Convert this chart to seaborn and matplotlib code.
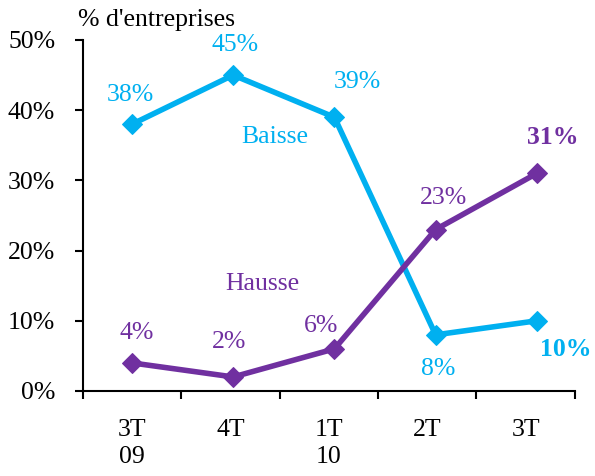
import numpy as np
import matplotlib
matplotlib.use("Agg")
import matplotlib.pyplot as plt
import seaborn as sns

# DATA

quarters = ["3T\n09", "4T", "1T\n10", "2T", "3T"]
baisse = [38, 45, 39, 8, 10]
hausse = [4, 2, 6, 23, 31]

CYAN = "#00B0F0"
PURPLE = "#7030A0"
FS = 18.5

# STYLE

sns.set_style("ticks")
plt.rcParams["font.family"] = ["Liberation Serif", "DejaVu Serif"]
plt.rcParams["font.size"] = FS
plt.rcParams["text.color"] = "black"
plt.rcParams["xtick.color"] = "black"
plt.rcParams["ytick.color"] = "black"

fig = plt.figure(figsize=(5.95, 4.76), dpi=100)
ax = fig.add_axes([0.1395, 0.1786, 0.8265, 0.7374])

x = np.arange(len(quarters))

sns.lineplot(x=x, y=baisse, ax=ax, color=CYAN, lw=4,
             marker="D", markersize=10.5, markeredgecolor=CYAN)
sns.lineplot(x=x, y=hausse, ax=ax, color=PURPLE, lw=4,
             marker="D", markersize=10.5, markeredgecolor=PURPLE)

# data labels
b_off = [(-1.5, 21), (1.5, 21.5), (16.5, 25), (2, -24.5), (21, -21)]
h_off = [(3.5, 21.5), (-3, 25), (-9.5, 16.5), (6, 23), (11.5, 26)]

for i, v in enumerate(baisse):
    ax.annotate(f"{v}%", (x[i], v), xytext=b_off[i], textcoords="offset points",
                ha="center", va="center", color=CYAN, fontsize=FS,
                fontweight="bold" if i == len(x) - 1 else "normal")
for i, v in enumerate(hausse):
    ax.annotate(f"{v}%", (x[i], v), xytext=h_off[i], textcoords="offset points",
                ha="center", va="center", color=PURPLE, fontsize=FS,
                fontweight="bold" if i == len(x) - 1 else "normal")

ax.text(1.41, 36.2, "Baisse", color=CYAN, ha="center", va="center", fontsize=FS)
ax.text(1.29, 15.3, "Hausse", color=PURPLE, ha="center", va="center", fontsize=FS)

# axes
ax.set_ylim(0, 50)
ax.set_yticks(range(0, 51, 10))
ax.set_yticklabels([f"{t}%" for t in range(0, 51, 10)])
ax.tick_params(axis="y", direction="out", length=6, width=1.5, pad=14, labelsize=FS)

x0, x1 = -0.484, 4.375
ax.set_xlim(x0, x1)
bounds = np.linspace(x0, x1, len(quarters) + 1)
ax.set_xticks(bounds)
ax.set_xticklabels([])
ax.set_xticks((bounds[:-1] + bounds[1:]) / 2, minor=True)
ax.set_xticklabels(quarters, minor=True)
ax.tick_params(axis="x", which="major", direction="out", length=6, width=1.5)
ax.tick_params(axis="x", which="minor", length=0, pad=20, labelsize=FS)
for lbl in ax.get_xticklabels(minor=True):
    lbl.set_linespacing(1.3)
    lbl.set_verticalalignment("top")

sns.despine(ax=ax)
for s in ["left", "bottom"]:
    ax.spines[s].set_linewidth(1.5)
    ax.spines[s].set_color("black")

ax.set_xlabel("")
ax.set_ylabel("")
ax.text(-0.01, 1.057, "% d'entreprises", transform=ax.transAxes,
        ha="left", va="center", fontsize=FS)

fig.savefig("out.png", dpi=100)
